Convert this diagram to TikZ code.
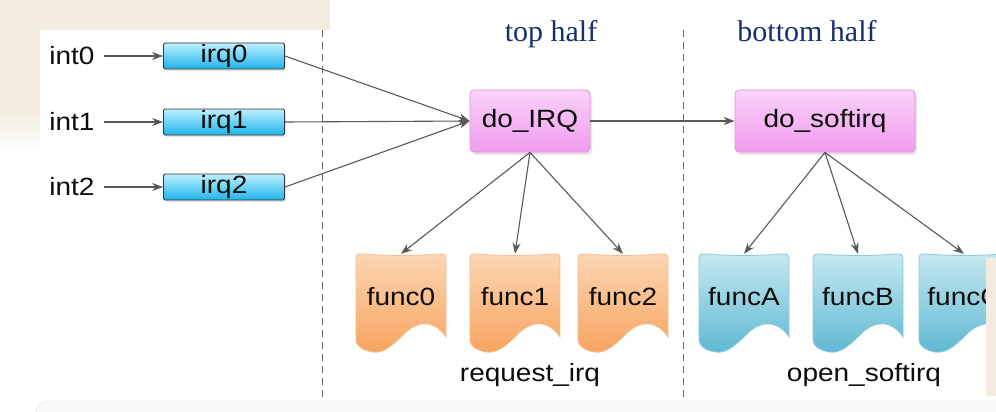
\documentclass[tikz,border=0pt]{standalone}
\usepackage{fontspec}
\setmainfont{Liberation Sans}[FakeStretch=1.12]
\newfontfamily\halffont{Liberation Serif}
\usetikzlibrary{arrows.meta,shadows}

\definecolor{beigebg}{HTML}{F1ECDD}
\definecolor{irqtop}{HTML}{BDF0FF}
\definecolor{irqbot}{HTML}{1EB4EA}
\definecolor{dotop}{HTML}{FAD2F8}
\definecolor{dobot}{HTML}{F09CEE}
\definecolor{doline}{HTML}{E58FE3}
\definecolor{orangetop}{HTML}{FCD6B4}
\definecolor{orangebot}{HTML}{F7A35E}
\definecolor{orangeline}{HTML}{F3BE93}
\definecolor{bluetop}{HTML}{C6E8F1}
\definecolor{bluebot}{HTML}{5DB8D2}
\definecolor{blueline}{HTML}{8CCBDD}
\definecolor{navyhalf}{HTML}{17306B}

\tikzset{
  lbl/.style={font=\fontsize{25}{25}\selectfont, text=black!95},
  irqbox/.style={lbl, draw=black!80, line width=0.8pt, rounded corners=1.5pt,
    top color=irqtop, bottom color=irqbot, minimum width=121pt, minimum height=26pt,
    inner sep=0pt, drop shadow={opacity=0.2,shadow xshift=1.5pt,shadow yshift=-2pt}},
  dobox/.style={lbl, draw=doline, line width=0.8pt, rounded corners=4pt,
    top color=dotop, bottom color=dobot, minimum height=62pt, inner sep=0pt,
    drop shadow={opacity=0.2,shadow xshift=2pt,shadow yshift=-3pt}},
  funcnode/.style={lbl, minimum width=90pt, minimum height=86pt, inner sep=0pt},
  orangefunc/.style={top color=orangetop, bottom color=orangebot, draw=orangeline, line width=0.8pt},
  bluefunc/.style={top color=bluetop, bottom color=bluebot, draw=blueline, line width=0.8pt},
  link/.style={draw=black!65, line width=1.1pt, -{Stealth[length=11pt,width=8pt]}},
  half/.style={font=\halffont\fontsize{30}{30}\selectfont, text=navyhalf},
  divider/.style={draw=black!60, line width=0.9pt, dash pattern=on 7pt off 5pt}
}

\newcommand{\funcshape}[3]{%
  \path[#3, shift={(#1,#2)}] (0,8) .. controls (0,0) .. (8,0)
    .. controls (30,2) and (60,2) .. (82,0) .. controls (90,0) .. (90,8) -- (90,83)
    .. controls (80,68) and (65,65) .. (50,78) .. controls (38,90) and (28,100) .. (16,98)
    .. controls (6,96) and (0,92) .. (0,86) -- cycle;
}

\begin{document}
\begin{tikzpicture}

\begin{scope}[x=1pt,y=-1pt]

  \clip (0,0) rectangle (996,412);
  \fill[white] (0,0) rectangle (996,412);
  \fill[beigebg] (0,0) rectangle (330,30);
  \fill[beigebg] (0,30) rectangle (40,110);
  \shade[top color=beigebg, bottom color=white] (0,110) rectangle (40,150);
  \draw[black!15, fill=black!2, rounded corners=12pt] (36,401) rectangle (1020,440);

  \draw[divider] (322,30) -- (322,400);
  \draw[divider] (683,30) -- (683,400);

  \node[half, anchor=base] (tophalf) at (551,42) {top half};
  \node[half, anchor=base] (bothalf) at (807,42) {bottom half};

  \node[lbl, inner xsep=9pt] (int0) at (72,56) {int0};
  \node[lbl, inner xsep=9pt] (int1) at (72,122) {int1};
  \node[lbl, inner xsep=9pt] (int2) at (72,187) {int2};

  \node[irqbox] (irq0) at (224,56) {irq0};
  \node[irqbox] (irq1) at (224,122) {irq1};
  \node[irqbox] (irq2) at (224,187) {irq2};

  \node[dobox, minimum width=120pt] (doirq) at (530,121) {do\_IRQ};
  \node[dobox, minimum width=180pt] (dosoft) at (825,121) {do\_softirq};

  \funcshape{356}{254}{orangefunc}
  \funcshape{470}{254}{orangefunc}
  \funcshape{578}{254}{orangefunc}
  \funcshape{699}{254}{bluefunc}
  \funcshape{813}{254}{bluefunc}
  \funcshape{919}{254}{bluefunc}

  \node[funcnode] (f0) at (401,297) {func0};
  \node[funcnode] (f1) at (515,297) {func1};
  \node[funcnode] (f2) at (623,297) {func2};
  \node[funcnode] (fa) at (744,297) {funcA};
  \node[funcnode] (fb) at (858,297) {funcB};
  \node[funcnode] (fc) at (964,297) {funcC};

  \node[lbl, anchor=base] (reqirq) at (530,381) {request\_irq};
  \node[lbl, anchor=base] (opensoft) at (864,381) {open\_softirq};

  \draw[link] (int0) -- (irq0);
  \draw[link] (int1) -- (irq1);
  \draw[link] (int2) -- (irq2);

  \draw[link] (irq0.east) -- (doirq.west);
  \draw[link] (irq1.east) -- (doirq.west);
  \draw[link] (irq2.east) -- (doirq.west);

  \draw[link] (doirq) -- (dosoft);

  \draw[link] (doirq.south) -- (f0.north);
  \draw[link] (doirq.south) -- (f1.north);
  \draw[link] (doirq.south) -- (f2.north);
  \draw[link] (dosoft.south) -- (fa.north);
  \draw[link] (dosoft.south) -- (fb.north);
  \draw[link] (dosoft.south) -- (fc.north);

  \fill[beigebg] (986,258) rectangle (996,396);

\end{scope}

\end{tikzpicture}
\end{document}
